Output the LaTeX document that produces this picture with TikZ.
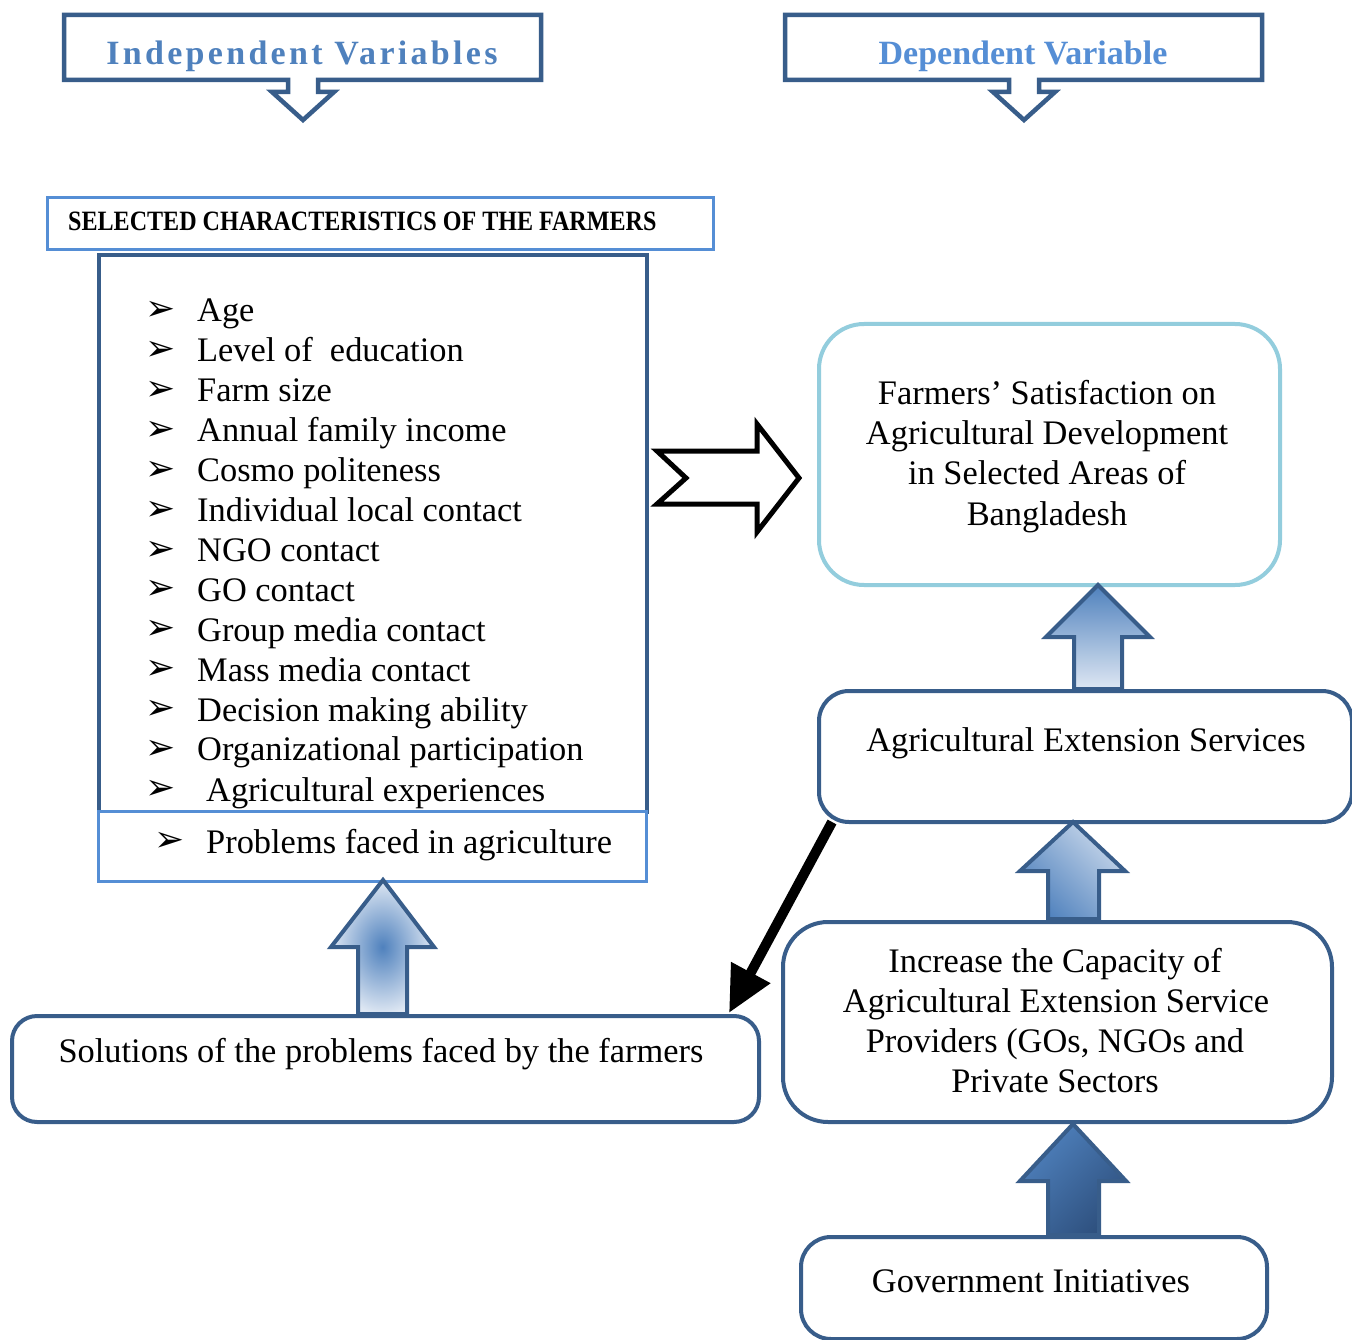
\documentclass[tikz,border=0pt]{standalone}
\usepackage{fontspec}
\setmainfont{Liberation Serif}
\newfontfamily\dvfont{DejaVu Sans}
\newfontfamily\spacedfont[LetterSpace=9.7]{Liberation Serif}
\usetikzlibrary{arrows.meta,calc}
\definecolor{dkblue}{RGB}{56,93,138}
\definecolor{ltblue}{RGB}{85,142,213}
\definecolor{ttblue}{RGB}{79,129,189}
\definecolor{cyanb}{RGB}{147,205,221}
\definecolor{midblue}{RGB}{79,129,189}
\definecolor{paleblue}{RGB}{222,231,243}
\definecolor{deepblue}{RGB}{46,80,126}
\tikzset{
  txt/.style={font=\fontsize{34.4}{40}\selectfont, inner sep=0pt, anchor=base},
  litem/.style={txt, anchor=base west},
  bul/.style={font=\dvfont\fontsize{36}{36}\selectfont, inner sep=0pt, anchor=center},
  boxn/.style={draw=dkblue, line width=4pt, inner sep=0pt, anchor=north west, fill=white},
  rbox/.style={boxn, rounded corners=#1},
  blockup/.style={draw=dkblue, line width=4pt, line join=miter},
  callout/.style={draw=dkblue, line width=4.5pt, line join=miter, fill=white},
  titletxt/.style={font=\spacedfont\bfseries\fontsize{34}{40}\selectfont, inner sep=0pt, anchor=base},
}
\begin{document}
\begin{tikzpicture}[x=1pt,y=-1pt]
\useasboundingbox (0,0) rectangle (1352,1340);
\fill[white] (0,0) rectangle (1352,1340);

% title callouts
\draw[callout] (64,15) -- (541,15) -- (541,80) -- (318,80) -- (318,92) -- (334,92) -- (303,120) -- (272,92) -- (288,92) -- (288,80) -- (64,80) -- cycle;
\node[titletxt, text=ttblue] (indep) at (302,65) {Independent Variables};
\draw[callout] (785,15) -- (1262,15) -- (1262,80) -- (1039,80) -- (1039,92) -- (1055,92) -- (1024,120) -- (993,92) -- (1009,92) -- (1009,80) -- (785,80) -- cycle;
\node[titletxt, text=ltblue, font=\bfseries\fontsize{34}{40}\selectfont] (dep) at (1023,65) {Dependent Variable};

% selected characteristics header
\node[boxn, draw=ltblue, line width=3pt, minimum width=666pt, minimum height=52pt] (selbox) at (46,196) {};
\node[font=\bfseries\fontsize{28}{30}\selectfont, inner sep=0pt, anchor=base west] (seltxt) at (68,231) {\scalebox{0.86}[1]{SELECTED CHARACTERISTICS OF THE FARMERS}};

% list box
\node[boxn, minimum width=548pt, minimum height=557pt] (listbox) at (97,253) {};
\node[boxn, draw=ltblue, line width=3pt, minimum width=548pt, minimum height=70pt] (probbox) at (97,810) {};

\foreach \t [count=\i from 0] in {Age, Level of\ \ education, Farm size, Annual family income, Cosmo politeness, Individual local contact, NGO contact, GO contact, Group media contact, Mass media contact, Decision making ability, Organizational participation}{
  \node[bul] (b\i) at (161,{311+39.9*\i}) {➢};
  \node[litem] (item\i) at (197,{322+39.9*\i}) {\t};
}
\node[bul] (b12) at (161,790) {➢};
\node[litem] (item12) at (206,801) {Agricultural experiences};
\node[bul] (b13) at (170,842) {➢};
\node[litem] (item13) at (206,853) {Problems faced in agriculture};

% big outline arrow
\draw[line width=5pt, line join=miter, fill=white] (657,451) -- (757,451) -- (757,424) -- (799,478) -- (757,532) -- (757,504) -- (657,504) -- (686,478) -- cycle;

% right column boxes
\node[rbox=45pt, draw=cyanb, minimum width=461pt, minimum height=261pt] (sat) at (817,322) {};
\node[txt] (sat1) at (1047,404) {Farmers’ Satisfaction on};
\node[txt] (sat2) at (1047,444) {Agricultural Development};
\node[txt] (sat3) at (1047,484) {in Selected Areas of};
\node[txt] (sat4) at (1047,525) {Bangladesh};

\node[rbox=30pt, minimum width=533pt, minimum height=131pt] (ext) at (817,689) {};
\node[txt] (exttxt) at (1086,751) {Agricultural Extension Services};

\node[rbox=45pt, minimum width=549pt, minimum height=200pt] (inc) at (781,920) {};
\node[txt] (inc1) at (1055,972) {Increase the Capacity of};
\node[txt] (inc2) at (1056,1012) {Agricultural Extension Service};
\node[txt] (inc3) at (1055,1052) {Providers (GOs, NGOs and};
\node[txt] (inc4) at (1055,1092) {Private Sectors};

\node[rbox=30pt, minimum width=466pt, minimum height=102pt] (gov) at (799,1235) {};
\node[txt] (govtxt) at (1031,1292) {Government Initiatives};

\node[rbox=25pt, minimum width=747pt, minimum height=106pt] (sol) at (10,1014) {};
\node[txt] (soltxt) at (381,1062) {Solutions of the problems faced by the farmers};

% block up arrows
\path[blockup, top color=midblue, bottom color=paleblue] (1098,585) -- (1150,637) -- (1122,637) -- (1122,689) -- (1074,689) -- (1074,637) -- (1046,637) -- cycle;
\path[blockup, top color=paleblue!85!midblue, bottom color=midblue, shading angle=-45] (1073,822) -- (1125,871) -- (1099,871) -- (1099,919) -- (1048,919) -- (1048,871) -- (1020,871) -- cycle;
\path[blockup, top color=midblue, bottom color=deepblue, shading angle=45] (1073,1124) -- (1126,1181) -- (1099,1181) -- (1099,1235) -- (1048,1235) -- (1048,1181) -- (1020,1181) -- cycle;
\path[blockup, shading=radial, inner color=midblue, outer color=paleblue] (383,880) -- (434,947) -- (407,947) -- (407,1014) -- (358,1014) -- (358,947) -- (331,947) -- cycle;

% black connector
\draw[line width=10pt, -{Triangle[length=46pt,width=42pt]}] ($(ext.south west)+(15,-2)$) -- ($(sol.north east)+(-32,-1)$);
\end{tikzpicture}
\end{document}
